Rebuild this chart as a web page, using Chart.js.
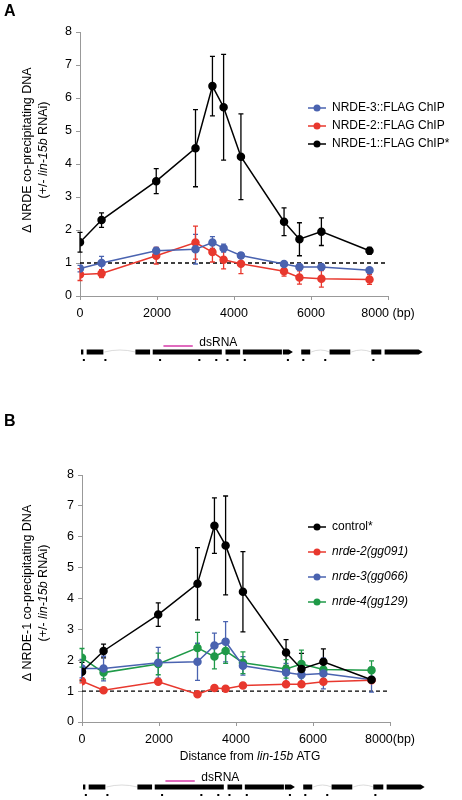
<!DOCTYPE html>
<html><head><meta charset="utf-8">
<script src="https://cdn.jsdelivr.net/npm/chart.js@4.4.1/dist/chart.umd.min.js"></script>
<style>
body{margin:0;background:#fff;width:462px;height:800px;overflow:hidden}
.wrap{position:absolute;left:0;width:462px}
</style></head>
<body>
<div class="wrap" style="top:0;height:380px"><canvas id="chartA"></canvas></div>
<div class="wrap" style="top:390px;height:410px"><canvas id="chartB"></canvas></div>
<script>
// primer positions (bp from ATG)
const positions = [0, 560, 1980, 3000, 3440, 3730, 4180, 5300, 5700, 6270, 7520];
const xTicks = [0, 2000, 4000, 6000, 8000];

// Panel A
const nrde1 = [1.63, 2.3, 3.48, 4.48, 6.36, 5.72, 4.22, 2.25, 1.72, 1.95, 1.37];
const nrde1Err = [0.3, 0.22, 0.38, 1.17, 0.9, 1.6, 1.3, 0.42, 0.5, 0.42, 0.1];
const nrde3 = [0.83, 1.0, 1.37, 1.42, 1.62, 1.45, 1.23, 0.97, 0.88, 0.88, 0.78];
const nrde3Err = [0.1, 0.2, 0.1, 0.45, 0.18, 0.12, 0.08, 0.05, 0.08, 0.08, 0.05];
const nrde2 = [0.65, 0.68, 1.22, 1.62, 1.33, 1.1, 0.98, 0.75, 0.56, 0.52, 0.5];
const nrde2Err = [0.18, 0.12, 0.25, 0.5, 0.3, 0.28, 0.3, 0.15, 0.2, 0.25, 0.15];

// Panel B
const control = nrde1, controlErr = nrde1Err;
const mut2 = [1.32, 1.03, 1.3, 0.9, 1.1, 1.08, 1.18, 1.22, 1.22, 1.3, 1.35];
const mut2Err = [0.05, 0.04, 0.05, 0.05, 0.05, 0.04, 0.05, 0.05, 0.05, 0.05, 0.05];
const mut3 = [1.73, 1.73, 1.92, 1.95, 2.48, 2.6, 1.82, 1.6, 1.53, 1.57, 1.37];
const mut3Err = [0.3, 0.4, 0.5, 0.6, 0.4, 0.65, 0.3, 0.3, 0.3, 0.5, 0.4];
const mut4 = [2.08, 1.6, 1.88, 2.4, 2.12, 2.3, 1.92, 1.72, 1.88, 1.7, 1.68];
const mut4Err = [0.3, 0.2, 0.35, 0.5, 0.4, 0.4, 0.35, 0.3, 0.45, 0.3, 0.3];

// gene model (bp): exon blocks, arrows mark block ending with a point
const exons = [[26,113],[173,633],[1439,1846],[1889,3709],[3779,4186],[4229,5270],[5270,5530,1],[5746,6006],[6483,7046],[7566,7852],[7913,8900,1]];
const introns = [[633,1439],[6006,6483],[7046,7566]];
const dsRNA = [2167, 2929];

const BLACK = "#000", RED = "#e8382e", BLUE = "#4a63b0", GREEN = "#1f9a48";
const FONT = "'Liberation Sans', Arial, sans-serif";

function ds(label, data, err, color){
  return { label, data: positions.map((x,i)=>({x, y:data[i]})), err, borderColor:color,
    backgroundColor:color, pointRadius:3.5, pointHoverRadius:3.5, borderWidth:1.5, tension:0 };
}

const decor = {
  id:"decor",
  beforeDatasetsDraw(chart, a, o){
    const {ctx, scales:{x,y}} = chart;
    ctx.save();
    ctx.setLineDash([4,3]); ctx.strokeStyle="#000"; ctx.lineWidth=1.3;
    ctx.beginPath(); ctx.moveTo(x.getPixelForValue(0), y.getPixelForValue(1));
    ctx.lineTo(x.getPixelForValue(8000), y.getPixelForValue(1)); ctx.stroke();
    ctx.setLineDash([]);
    // error bars
    chart.data.datasets.forEach(d=>{
      ctx.strokeStyle=d.borderColor; ctx.lineWidth=1.3;
      d.data.forEach((p,i)=>{
        const px=x.getPixelForValue(p.x), t=y.getPixelForValue(p.y+d.err[i]), b=y.getPixelForValue(p.y-d.err[i]);
        ctx.beginPath(); ctx.moveTo(px,t); ctx.lineTo(px,b);
        ctx.moveTo(px-2.5,t); ctx.lineTo(px+2.5,t); ctx.moveTo(px-2.5,b); ctx.lineTo(px+2.5,b); ctx.stroke();
      });
    });
    ctx.restore();
  },
  afterDraw(chart, a, o){
    const {ctx, scales:{x}} = chart;
    ctx.save();
    // y title
    ctx.translate(o.titleX, o.titleY); ctx.rotate(-Math.PI/2);
    ctx.fillStyle="#000"; ctx.textAlign="center"; ctx.textBaseline="middle";
    ctx.font="12.5px "+FONT; ctx.fillText(o.title1, 0, -8);
    const parts=[["(+/- ","12.5px "],["lin-15b","italic 12.5px "],[" RNAi)","12.5px "]];
    let w=0; parts.forEach(p=>{ctx.font=p[1]+FONT; w+=ctx.measureText(p[0]).width;});
    let cx=-w/2; ctx.textAlign="left";
    parts.forEach(p=>{ctx.font=p[1]+FONT; ctx.fillText(p[0],cx,8); cx+=ctx.measureText(p[0]).width;});
    ctx.restore();
    ctx.save();
    // panel letter
    ctx.font="bold 16px "+FONT; ctx.fillStyle="#000"; ctx.textBaseline="top";
    ctx.fillText(o.letter, 4, o.letterY);
    // legend
    ctx.font="12px "+FONT; ctx.textBaseline="middle";
    o.legend.forEach((l,i)=>{
      const ly=o.legY+i*o.legStep;
      ctx.strokeStyle=l.c; ctx.fillStyle=l.c; ctx.lineWidth=1.5;
      ctx.beginPath(); ctx.moveTo(o.legX,ly); ctx.lineTo(o.legX+18,ly); ctx.stroke();
      ctx.beginPath(); ctx.arc(o.legX+9,ly,3.5,0,7); ctx.fill();
      ctx.fillStyle="#000"; ctx.font=(l.it?"italic ":"")+"12px "+FONT;
      ctx.fillText(l.t, o.legX+24, ly);
    });
    // x title
    if(o.xTitle){
      const parts=[["Distance from ",""],["lin-15b","italic "],[" ATG",""]];
      let w=0; parts.forEach(p=>{ctx.font=p[1]+"12px "+FONT; w+=ctx.measureText(p[0]).width;});
      let cx=o.xTitleX-w/2;
      parts.forEach(p=>{ctx.font=p[1]+"12px "+FONT; ctx.fillText(p[0],cx,o.xTitleY); cx+=ctx.measureText(p[0]).width;});
    }
    // gene model
    const gy=o.geneY;
    ctx.strokeStyle="#ccc"; ctx.lineWidth=0.7;
    introns.forEach(([s,e])=>{
      const a1=x.getPixelForValue(s), b1=x.getPixelForValue(e);
      ctx.beginPath(); ctx.moveTo(a1,gy); ctx.quadraticCurveTo((a1+b1)/2,gy-4,b1,gy); ctx.stroke();
    });
    ctx.fillStyle="#000";
    exons.forEach(([s,e,arrow])=>{
      const a1=x.getPixelForValue(s), b1=x.getPixelForValue(e);
      if(arrow){ ctx.beginPath(); ctx.moveTo(a1,gy-2.5); ctx.lineTo(b1-4,gy-2.5); ctx.lineTo(b1,gy);
        ctx.lineTo(b1-4,gy+2.5); ctx.lineTo(a1,gy+2.5); ctx.fill(); }
      else ctx.fillRect(a1,gy-2.5,b1-a1-1,5);
    });
    ctx.strokeStyle="#d63aa9"; ctx.lineWidth=1.5;
    ctx.beginPath(); ctx.moveTo(x.getPixelForValue(dsRNA[0]),gy-6); ctx.lineTo(x.getPixelForValue(dsRNA[1]),gy-6); ctx.stroke();
    ctx.fillStyle="#000"; ctx.font="12px "+FONT; ctx.textBaseline="alphabetic";
    ctx.fillText("dsRNA", x.getPixelForValue(3100), gy-6);
    positions.forEach(p=>{ ctx.fillRect(x.getPixelForValue(p+100)-1, gy+7, 2, 2); });
    ctx.restore();
  }
};

function make(id, datasets, pad, yw, xh, o){
  return new Chart(document.getElementById(id), {
    type:"line",
    data:{ datasets },
    plugins:[decor],
    options:{
      responsive:true, maintainAspectRatio:false, animation:false,
      layout:{ padding:pad },
      plugins:{ legend:{display:false}, tooltip:{enabled:false}, decor:o },
      scales:{
        x:{ type:"linear", min:0, max:8000, afterBuildTicks:s=>{s.ticks=xTicks.map(v=>({value:v}));},
            afterFit:s=>{s.height=xh;},
            ticks:{ color:"#000", font:{family:FONT,size:12.5}, padding:6, maxRotation:0,
              callback:v=> v===8000 ? o.lastTick : String(v) },
            grid:{ drawOnChartArea:false, tickLength:4, color:"#999" }, border:{color:"#999"} },
        y:{ min:0, max:8, afterFit:s=>{s.width=yw;},
            ticks:{ stepSize:1, color:"#000", font:{family:FONT,size:12.5}, padding:4 },
            grid:{ drawOnChartArea:false, tickLength:4, color:"#999" }, border:{color:"#999"} }
      }
    }
  });
}

make("chartA", [ds("NRDE-3::FLAG ChIP",nrde3,nrde3Err,BLUE), ds("NRDE-2::FLAG ChIP",nrde2,nrde2Err,RED), ds("NRDE-1::FLAG ChIP*",nrde1,nrde1Err,BLACK)],
  {left:0,right:74,top:32,bottom:50}, 80, 34,
  {letter:"A", letterY:4, title1:"\u0394 NRDE co-precipitating DNA", titleX:36, titleY:150, lastTick:"8000 (bp)",
   legX:308, legY:108, legStep:18, legend:[{t:"NRDE-3::FLAG ChIP",c:BLUE},{t:"NRDE-2::FLAG ChIP",c:RED},{t:"NRDE-1::FLAG ChIP*",c:BLACK}],
   geneY:352});

make("chartB", [ds("control*",control,controlErr,BLACK), ds("nrde-2(gg091)",mut2,mut2Err,RED), ds("nrde-3(gg066)",mut3,mut3Err,BLUE), ds("nrde-4(gg129)",mut4,mut4Err,GREEN)],
  {left:0,right:72,top:85,bottom:44}, 82, 34,
  {letter:"B", letterY:24, title1:"\u0394 NRDE-1 co-precipitating DNA", titleX:36, titleY:203, lastTick:"8000(bp)",
   legX:308, legY:137, legStep:25, legend:[{t:"control*",c:BLACK},{t:"nrde-2(gg091)",c:RED,it:1},{t:"nrde-3(gg066)",c:BLUE,it:1},{t:"nrde-4(gg129)",c:GREEN,it:1}],
   xTitle:true, xTitleX:250, xTitleY:367, geneY:397});
</script>
</body></html>
